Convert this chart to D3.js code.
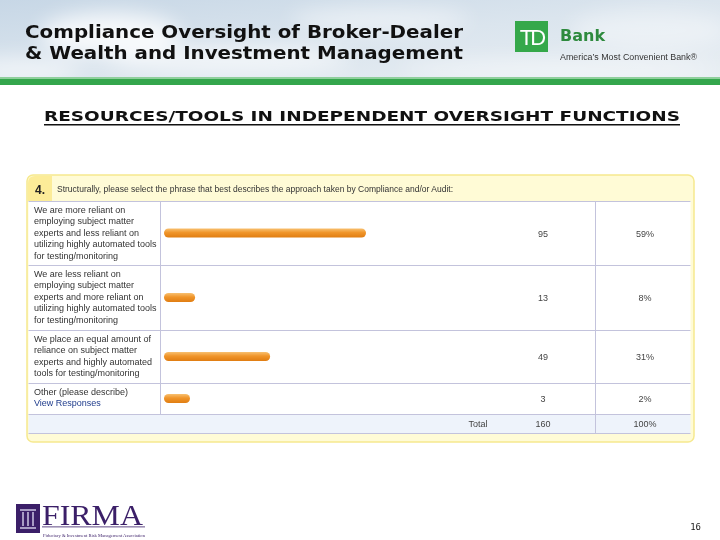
<!DOCTYPE html>
<html><head><meta charset="utf-8">
<script src="https://cdn.jsdelivr.net/npm/d3@7"></script>
<style>html,body{margin:0;padding:0;background:#fff;}svg{display:block;}</style>
</head><body>
<svg id="c" width="720" height="540"></svg>
<script>
const titleLines = ["Compliance Oversight of Broker-Dealer", "& Wealth and Investment Management"];
const subtitle = "RESOURCES/TOOLS IN INDEPENDENT OVERSIGHT FUNCTIONS";
const questionNo = "4.";
const question = "Structurally, please select the phrase that best describes the approach taken by Compliance and/or Audit:";
const categories = [
  ["We are more reliant on", "employing subject matter", "experts and less reliant on", "utilizing highly automated tools", "for testing/monitoring"],
  ["We are less reliant on", "employing subject matter", "experts and more reliant on", "utilizing highly automated tools", "for testing/monitoring"],
  ["We place an equal amount of", "reliance on subject matter", "experts and highly automated", "tools for testing/monitoring"],
  ["Other (please describe)", "View Responses"]
];
const counts = [95, 13, 49, 3];
const percents = ["59%", "8%", "31%", "2%"];
const totalCount = 160;
const totalPercent = "100%";
const pageNo = "16";

const svg = d3.select("#c");
const defs = svg.append("defs");

// sky header
const sky = defs.append("linearGradient").attr("id","sky").attr("x1",0).attr("y1",0).attr("x2",1).attr("y2",1);
sky.append("stop").attr("offset","0%").attr("stop-color","#c7d7e6");
sky.append("stop").attr("offset","50%").attr("stop-color","#dbe5ee");
sky.append("stop").attr("offset","100%").attr("stop-color","#e8eef3");
const blur = defs.append("filter").attr("id","blur").attr("x","-50%").attr("y","-50%").attr("width","200%").attr("height","200%");
blur.append("feGaussianBlur").attr("stdDeviation",10);
svg.append("rect").attr("x",0).attr("y",0).attr("width",720).attr("height",79).attr("fill","url(#sky)");
const clouds = svg.append("g").attr("filter","url(#blur)").attr("fill","#ffffff");
[[110,35,70,22,0.8],[230,60,120,14,0.6],[380,20,90,12,0.5],[560,70,160,10,0.5],[20,70,60,12,0.6],[650,30,80,20,0.4]].forEach(c=>{
  clouds.append("ellipse").attr("cx",c[0]).attr("cy",c[1]).attr("rx",c[2]).attr("ry",c[3]).attr("opacity",c[4]);
});
svg.append("rect").attr("x",0).attr("y",77).attr("width",720).attr("height",2).attr("fill","#8fcf9c");
svg.append("rect").attr("x",0).attr("y",79).attr("width",720).attr("height",6).attr("fill","#34a64c");

// title
svg.selectAll("text.title").data(titleLines).join("text").attr("class","title")
  .attr("x",25).attr("y",(d,i)=>38+i*21)
  .attr("font-family","DejaVu Sans, Verdana, sans-serif").attr("font-weight","bold").attr("font-size",17.5)
  .attr("fill","#111").attr("textLength",438).attr("lengthAdjust","spacingAndGlyphs")
  .text(d=>d);

// TD logo
svg.append("rect").attr("x",515).attr("y",21).attr("width",33).attr("height",31).attr("fill","#35a84a");
svg.append("text").attr("x",531.5).attr("y",45).attr("text-anchor","middle").attr("font-family","Liberation Sans, Arial, sans-serif")
  .attr("font-size",22).attr("fill","#fff").attr("letter-spacing",-3).text("TD");
svg.append("text").attr("x",560).attr("y",41).attr("font-family","DejaVu Sans, sans-serif").attr("font-weight","bold")
  .attr("font-size",16).attr("fill","#2e8a3e").text("Bank");
svg.append("text").attr("x",560).attr("y",60).attr("font-family","Liberation Sans, Arial, sans-serif")
  .attr("font-size",8.5).attr("fill","#333").attr("textLength",137).attr("lengthAdjust","spacingAndGlyphs").text("America\u2019s Most Convenient Bank\u00AE");

// subtitle
svg.append("text").attr("x",44).attr("y",121).attr("font-family","DejaVu Sans, Verdana, sans-serif")
  .attr("font-weight","bold").attr("font-size",14.5).attr("fill","#111")
  .attr("textLength",636).attr("lengthAdjust","spacingAndGlyphs").text(subtitle);
svg.append("rect").attr("x",44).attr("y",124).attr("width",636).attr("height",1.5).attr("fill","#111");

// panel
const P = {x:27, y:175, w:667, h:267};
const colLabelR = 160, colDiv = 595, tableL = 28.5, tableR = 690.5;
const rowTops = [201, 265, 330, 383, 414, 433];
svg.append("rect").attr("x",P.x).attr("y",P.y).attr("width",P.w).attr("height",P.h).attr("rx",6)
  .attr("fill","#fffbd6").attr("stroke","#f6e98f").attr("stroke-width",1.5);
svg.append("path").attr("d",`M${P.x+1},${P.y+26} V${P.y+8} Q${P.x+1},${P.y+1} ${P.x+8},${P.y+1} H52 V${P.y+26} Z`).attr("fill","#fcec98");
svg.append("text").attr("x",35).attr("y",194).attr("font-family","Liberation Sans, Arial, sans-serif").attr("font-weight","bold")
  .attr("font-size",12).attr("fill","#222").text(questionNo);
svg.append("text").attr("x",57).attr("y",192).attr("font-family","Liberation Sans, Arial, sans-serif")
  .attr("font-size",8.6).attr("fill","#333").attr("textLength",396).attr("lengthAdjust","spacingAndGlyphs").text(question);

// table body
svg.append("rect").attr("x",tableL).attr("y",rowTops[0]).attr("width",tableR-tableL).attr("height",rowTops[4]-rowTops[0]).attr("fill","#ffffff");
svg.append("rect").attr("x",tableL).attr("y",rowTops[4]).attr("width",tableR-tableL).attr("height",rowTops[5]-rowTops[4]).attr("fill","#eef3fb");
const gridC = "#c3c3dc";
rowTops.forEach(y=>svg.append("line").attr("x1",tableL).attr("x2",tableR).attr("y1",y+0.5).attr("y2",y+0.5).attr("stroke",gridC));
svg.append("line").attr("x1",colLabelR+0.5).attr("x2",colLabelR+0.5).attr("y1",rowTops[0]).attr("y2",rowTops[4]).attr("stroke",gridC);
svg.append("line").attr("x1",colDiv+0.5).attr("x2",colDiv+0.5).attr("y1",rowTops[0]).attr("y2",rowTops[5]).attr("stroke",gridC);

// bars
const x = d3.scaleLinear().domain([0, 95]).range([4, 202]);
const barG = defs.append("linearGradient").attr("id","bar").attr("x1",0).attr("y1",0).attr("x2",0).attr("y2",1);
barG.append("stop").attr("offset","0%").attr("stop-color","#f8c070");
barG.append("stop").attr("offset","45%").attr("stop-color","#f0952a");
barG.append("stop").attr("offset","100%").attr("stop-color","#e07d12");
const rowMid = i => (rowTops[i]+rowTops[i+1])/2;
svg.selectAll("rect.bar").data(counts).join("rect").attr("class","bar")
  .attr("x",164).attr("y",(d,i)=>rowMid(i)-4.5).attr("height",9)
  .attr("width",d=>Math.max(x(d),26)).attr("rx",4.5).attr("fill","url(#bar)");

// labels
const font = "Liberation Sans, Arial, sans-serif";
categories.forEach((lines,i)=>{
  const top = rowTops[i];
  const lh = 11.4;
  lines.forEach((t,j)=>{
    svg.append("text").attr("x",34).attr("y",top+12+j*lh).attr("font-family",font).attr("font-size",9)
      .attr("fill", (i===3 && j===1) ? "#1f3c8c" : "#333").text(t);
  });
  svg.append("text").attr("x",543).attr("y",rowMid(i)+3.5).attr("text-anchor","middle").attr("font-family",font)
    .attr("font-size",9).attr("fill","#444").text(counts[i]);
  svg.append("text").attr("x",645).attr("y",rowMid(i)+3.5).attr("text-anchor","middle").attr("font-family",font)
    .attr("font-size",9).attr("fill","#444").text(percents[i]);
});
const tm = (rowTops[4]+rowTops[5])/2 + 3.5;
svg.append("text").attr("x",478).attr("y",tm).attr("text-anchor","middle").attr("font-family",font).attr("font-size",9).attr("fill","#444").text("Total");
svg.append("text").attr("x",543).attr("y",tm).attr("text-anchor","middle").attr("font-family",font).attr("font-size",9).attr("fill","#444").text(totalCount);
svg.append("text").attr("x",645).attr("y",tm).attr("text-anchor","middle").attr("font-family",font).attr("font-size",9).attr("fill","#444").text(totalPercent);

// FIRMA logo
const purple = "#3b1f68";
svg.append("rect").attr("x",16).attr("y",504).attr("width",24).attr("height",29).attr("fill",purple);
const col = svg.append("g").attr("fill","#a89cc4");
col.append("rect").attr("x",20).attr("y",509).attr("width",16).attr("height",2);
col.append("rect").attr("x",22).attr("y",512).attr("width",2).attr("height",14);
col.append("rect").attr("x",27).attr("y",512).attr("width",2).attr("height",14);
col.append("rect").attr("x",32).attr("y",512).attr("width",2).attr("height",14);
col.append("rect").attr("x",20).attr("y",527).attr("width",16).attr("height",2);
svg.append("text").attr("x",42).attr("y",525).attr("font-family","Liberation Serif, Times New Roman, serif")
  .attr("font-size",29).attr("fill",purple).attr("textLength",101).attr("lengthAdjust","spacingAndGlyphs").text("FIRMA");
svg.append("rect").attr("x",42).attr("y",526.5).attr("width",103).attr("height",0.8).attr("fill",purple);
svg.append("text").attr("x",43).attr("y",536.5).attr("font-family","Liberation Serif, serif").attr("font-size",4.5)
  .attr("fill",purple).attr("textLength",102).attr("lengthAdjust","spacingAndGlyphs").text("Fiduciary & Investment Risk Management Association");

svg.append("text").attr("x",701).attr("y",530).attr("text-anchor","end").attr("font-family","DejaVu Sans Mono, monospace")
  .attr("font-size",9).attr("fill","#222").text(pageNo);
</script>
</body></html>
